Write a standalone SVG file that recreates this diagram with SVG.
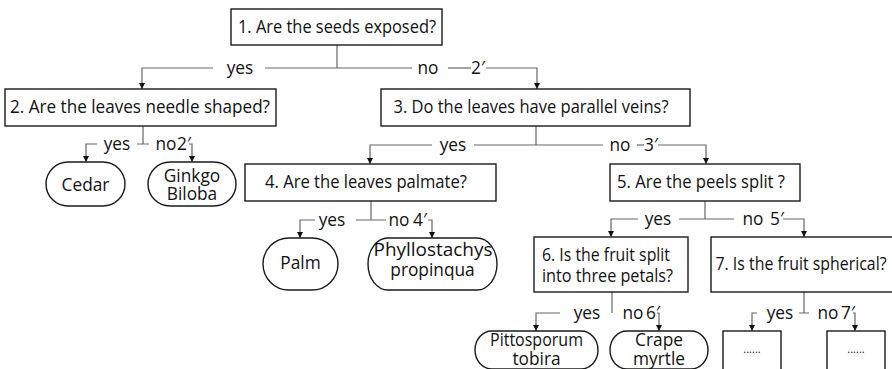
<svg xmlns="http://www.w3.org/2000/svg" width="892" height="369" viewBox="0 0 892 369">
  <defs>
    <marker id="arrow" markerUnits="userSpaceOnUse" markerWidth="6" markerHeight="6" refX="6" refY="3" orient="auto" viewBox="0 0 6 6">
      <path d="M0,0 L6,3 L0,6 Z" fill="#111"/>
    </marker>
    <style>
      .box { fill: #fff; stroke: #1a1a1a; stroke-width: 1.4; }
      .t { font-family: "Open Sans", "Noto Sans", sans-serif; font-size: 17.3px; fill: #111; text-anchor: middle; }
      .lbl { font-family: "Open Sans", "Noto Sans", sans-serif; font-size: 17.3px; fill: #111; text-anchor: middle; }
      .dots { font-family: "Open Sans", "Noto Sans", sans-serif; font-size: 11px; fill: #111; text-anchor: middle; }
      .ln { fill: none; stroke: #666; stroke-width: 1.2; }
      .arr { fill: none; stroke: #666; stroke-width: 1.2; marker-end: url(#arrow); }
    </style>
  </defs>

  <!-- connectors -->
  <g id="connectors">
    <!-- from question 1 -->
    <path class="ln" d="M337,45 V68"/>
    <path class="arr" d="M213,68 H142 V89"/>
    <path class="ln" d="M265,68 H412"/>
    <path class="ln" d="M448,68 H471"/>
    <path class="arr" d="M486,68 H537 V89"/>
    <!-- from question 2 -->
    <path class="ln" d="M143,126 V144 M137,144 H149"/>
    <path class="arr" d="M97,144 H86 V162"/>
    <path class="arr" d="M189,144 H192 V162"/>
    <!-- from question 3 -->
    <path class="ln" d="M536,126 V145"/>
    <path class="arr" d="M432,145 H370 V164"/>
    <path class="ln" d="M474,145 H603"/>
    <path class="ln" d="M637,145 H644"/>
    <path class="arr" d="M658,145 H706 V164"/>
    <!-- from question 4 -->
    <path class="ln" d="M371,201 V220 M356,220 H386"/>
    <path class="arr" d="M315,220 H300 V238"/>
    <path class="arr" d="M428,220 H432 V238"/>
    <!-- from question 5 -->
    <path class="ln" d="M705,201 V219"/>
    <path class="arr" d="M638,219 H611 V237"/>
    <path class="ln" d="M679,219 H734"/>
    <path class="arr" d="M783,219 H804 V237"/>
    <!-- from question 6 -->
    <path class="ln" d="M612,292 V313"/>
    <path class="arr" d="M560,313 H536 V331"/>
    <path class="arr" d="M657,313 H659 V331"/>
    <!-- from question 7 -->
    <path class="ln" d="M804,292 V313 M799,313 H809"/>
    <path class="arr" d="M757,313 H752 V331"/>
    <path class="arr" d="M853,313 H855 V331"/>

    <!-- branch labels -->
    <text class="lbl" x="240" y="74">yes</text>
    <text class="lbl" x="428" y="74">no</text>
    <text class="lbl" x="478" y="74">2′</text>

    <text class="lbl" x="117" y="150">yes</text>
    <text class="lbl" x="166" y="150">no</text>
    <text class="lbl" x="184" y="150">2′</text>

    <text class="lbl" x="453" y="151">yes</text>
    <text class="lbl" x="620" y="151">no</text>
    <text class="lbl" x="651" y="151">3′</text>

    <text class="lbl" x="332" y="226">yes</text>
    <text class="lbl" x="399" y="226">no</text>
    <text class="lbl" x="420" y="226">4′</text>

    <text class="lbl" x="658" y="225">yes</text>
    <text class="lbl" x="753" y="225">no</text>
    <text class="lbl" x="777" y="225">5′</text>

    <text class="lbl" x="587" y="319">yes</text>
    <text class="lbl" x="633" y="319">no</text>
    <text class="lbl" x="653" y="319">6′</text>

    <text class="lbl" x="780" y="319">yes</text>
    <text class="lbl" x="828" y="319">no</text>
    <text class="lbl" x="848" y="319">7′</text>
  </g>

  <!-- questions -->
  <g id="q1">
    <rect class="box" x="231" y="9" width="211" height="36"/>
    <text class="t" x="337" y="33" textLength="198" lengthAdjust="spacingAndGlyphs">1. Are the seeds exposed?</text>
  </g>
  <g id="q2">
    <rect class="box" x="5" y="89" width="271" height="37"/>
    <text class="t" x="140" y="113" textLength="260" lengthAdjust="spacingAndGlyphs">2. Are the leaves needle shaped?</text>
  </g>
  <g id="q3">
    <rect class="box" x="381" y="89" width="309" height="37"/>
    <text class="t" x="531" y="113" textLength="275" lengthAdjust="spacingAndGlyphs">3. Do the leaves have parallel veins?</text>
  </g>
  <g id="q4">
    <rect class="box" x="245" y="164" width="251" height="37"/>
    <text class="t" x="366" y="188" textLength="202" lengthAdjust="spacingAndGlyphs">4. Are the leaves palmate?</text>
  </g>
  <g id="q5">
    <rect class="box" x="610" y="164" width="190" height="37"/>
    <text class="t" x="701" y="188" textLength="168" lengthAdjust="spacingAndGlyphs">5. Are the peels split ?</text>
  </g>
  <g id="q6">
    <rect class="box" x="534" y="237" width="154" height="55"/>
    <text class="t" x="606" y="261" textLength="128" lengthAdjust="spacingAndGlyphs">6. Is the fruit split</text>
    <text class="t" x="607.5" y="282" textLength="131" lengthAdjust="spacingAndGlyphs">into three petals?</text>
  </g>
  <g id="q7">
    <rect class="box" x="711" y="237" width="184" height="55"/>
    <text class="t" x="801" y="270" textLength="171" lengthAdjust="spacingAndGlyphs">7. Is the fruit spherical?</text>
  </g>

  <!-- outcomes -->
  <g id="cedar">
    <rect class="box" x="46" y="162" width="79" height="44" rx="22"/>
    <text class="t" x="85.5" y="191">Cedar</text>
  </g>
  <g id="ginkgo">
    <rect class="box" x="148" y="162" width="88" height="44" rx="22"/>
    <text class="t" x="192" y="182">Ginkgo</text>
    <text class="t" x="192" y="200">Biloba</text>
  </g>
  <g id="palm">
    <rect class="box" x="263" y="238" width="75" height="52" rx="26"/>
    <text class="t" x="300.5" y="269">Palm</text>
  </g>
  <g id="phyllostachys">
    <rect class="box" x="368" y="238" width="129" height="52" rx="20" ry="26"/>
    <text class="t" x="433" y="256" textLength="119" lengthAdjust="spacingAndGlyphs">Phyllostachys</text>
    <text class="t" x="432.5" y="276">propinqua</text>
  </g>
  <g id="pittosporum">
    <rect class="box" x="475" y="331" width="123" height="38" rx="17" ry="19"/>
    <text class="t" x="536.5" y="346" textLength="93" lengthAdjust="spacingAndGlyphs">Pittosporum</text>
    <text class="t" x="536.5" y="365">tobira</text>
  </g>
  <g id="crape">
    <rect class="box" x="610" y="331" width="98" height="38" rx="17" ry="19"/>
    <text class="t" x="659" y="346">Crape</text>
    <text class="t" x="659" y="365">myrtle</text>
  </g>
  <g id="more-yes">
    <rect class="box" x="723" y="331" width="58" height="40"/>
    <text class="dots" x="752" y="353">......</text>
  </g>
  <g id="more-no">
    <rect class="box" x="827" y="331" width="58" height="40"/>
    <text class="dots" x="856" y="353">......</text>
  </g>
</svg>
